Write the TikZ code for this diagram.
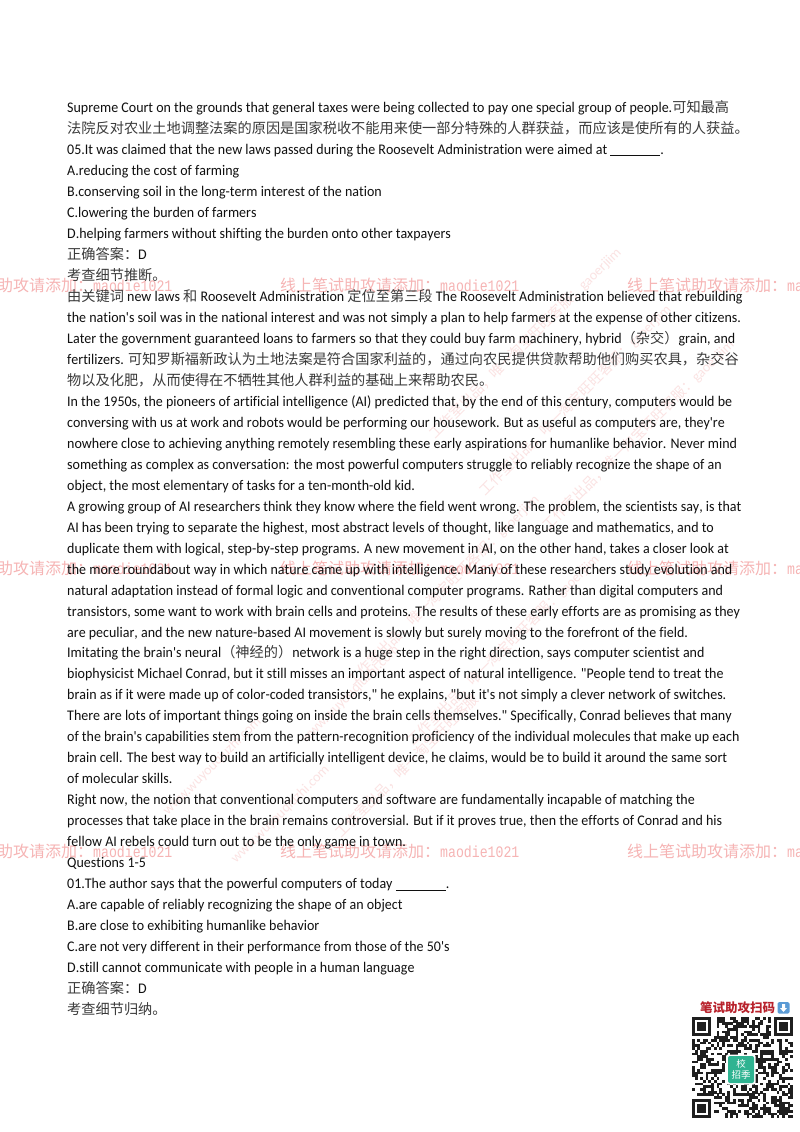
\documentclass[tikz,border=0pt]{standalone}
\usepackage{fontspec}
\newfontfamily\latf[Ligatures=NoCommon,Kerning=Off,FakeStretch=0.95]{Carlito}
\newfontfamily\cjkf{Noto Sans CJK SC}
\newfontfamily\wmono[FakeStretch=0.825]{Liberation Mono}
\setmainfont{Carlito}
\definecolor{inkc}{HTML}{101010}
\definecolor{zhc}{HTML}{3A3A3A}
\definecolor{wmred}{HTML}{F6B4B4}
\definecolor{wmfaint}{HTML}{FBE3E3}
\definecolor{qrteal}{HTML}{2FB391}
\definecolor{qrtitle}{HTML}{B8222C}
\definecolor{qrblue}{HTML}{5B9BD5}
\newcommand{\zh}[1]{{\cjkf\fontsize{14.2pt}{16pt}\selectfont\color{zhc}#1}}
\newcommand{\pline}[2]{\node[txtline] (ln#1) at ({67},{112.5+20.98*(#1-1)}) {#2};}
\newcommand{\wmark}[3]{\node[wmline] (#1) at (#2,#3) {{\cjkf 线上笔试助攻请添加：}{\wmono\fontsize{16pt}{18pt}\selectfont maodie1021}};}
\newcommand{\wdiag}[4]{\node[wmdiag] (#1) at (#2,#3) {#4};}
\tikzset{
  txtline/.style={inner sep=0pt,anchor=base west,text=inkc,font=\latf\fontsize{14.72pt}{16pt}\selectfont},
  wmline/.style={inner sep=0pt,anchor=base west,text=wmred,font=\fontsize{16pt}{18pt}\selectfont},
  wmdiag/.style={inner sep=0pt,anchor=base east,rotate=45,text=wmfaint,font=\fontsize{14pt}{16pt}\selectfont},
  qrmod/.style={fill=black!88,draw=none}
}
\begin{document}
\begin{tikzpicture}[x=1pt,y=-1pt]
\useasboundingbox[fill=white] (0,0) rectangle (800,1132);
% faint diagonal watermarks
\wdiag{dga}{622}{253}{{\cjkf 工作室出品，唯一淘宝旺旺客服：}gaoerjiim}
\wdiag{dgb}{672}{310}{{\cjkf 工作室出品，唯一淘宝旺旺客服：}gaoerjiim}
\wdiag{dgc}{735}{345}{{\cjkf 工作室出品，唯一淘宝旺旺客服：}gaoerjiim}
\wdiag{dgd}{540}{500}{{\cjkf 工作室出品，唯一淘宝旺旺客服：}gaoerjiim}
\wdiag{dge}{600}{560}{{\cjkf 工作室出品，唯一淘宝旺旺客服：}gaoerjiim}
\wdiag{dgf}{480}{700}{{\cjkf 工作室出品，唯一淘宝旺旺客服}}
\wdiag{dgg}{330}{770}{www.wuyouqiuzhi.com}
\wdiag{dgh}{262}{722}{www.wuyouqiuzhi.com}
\wdiag{dgi}{400}{650}{www.wuyouqiuzhi.com}
% red watermarks
\wmark{wa}{-67}{291}\wmark{wb}{280}{291}\wmark{wc}{627}{291}
\wmark{wd}{-67}{574.5}\wmark{we}{280}{574.5}\wmark{wf}{627}{574.5}
\wmark{wg}{-67}{857.5}\wmark{wh}{280}{857.5}\wmark{wi}{627}{857.5}
% body text
\pline{1}{Supreme Court on the grounds that general taxes were being collected to pay one special group of people.\zh{可知最高}}
\pline{2}{\zh{法院反对农业土地调整法案的原因是国家税收不能用来使一部分特殊的人群获益，而应该是使所有的人获益。}}
\pline{3}{05.It was claimed that the new laws passed during the Roosevelt Administration were aimed at \rule[-1.5pt]{50pt}{0.7pt}.}
\pline{4}{A.reducing the cost of farming}
\pline{5}{B.conserving soil in the long-term interest of the nation}
\pline{6}{C.lowering the burden of farmers}
\pline{7}{D.helping farmers without shifting the burden onto other taxpayers}
\pline{8}{\zh{正确答案：}D}
\pline{9}{\zh{考查细节推断。}}
\pline{10}{\zh{由关键词} new laws \zh{和} Roosevelt Administration \zh{定位至第三段} The Roosevelt Administration believed that rebuilding}
\pline{11}{the nation's soil was in the national interest and was not simply a plan to help farmers at the expense of other citizens.}
\pline{12}{Later the government guaranteed loans to farmers so that they could buy farm machinery, hybrid\zh{（杂交）}grain, and}
\pline{13}{fertilizers. \zh{可知罗斯福新政认为土地法案是符合国家利益的，通过向农民提供贷款帮助他们购买农具，杂交谷}}
\pline{14}{\zh{物以及化肥，从而使得在不牺牲其他人群利益的基础上来帮助农民。}}
\pline{15}{In the 1950s, the pioneers of artificial intelligence (AI) predicted that, by the end of this century, computers would be}
\pline{16}{conversing with us at work and robots would be performing our housework. But as useful as computers are, they're}
\pline{17}{nowhere close to achieving anything remotely resembling these early aspirations for humanlike behavior. Never mind}
\pline{18}{something as complex as conversation: the most powerful computers struggle to reliably recognize the shape of an}
\pline{19}{object, the most elementary of tasks for a ten-month-old kid.}
\pline{20}{A growing group of AI researchers think they know where the field went wrong. The problem, the scientists say, is that}
\pline{21}{AI has been trying to separate the highest, most abstract levels of thought, like language and mathematics, and to}
\pline{22}{duplicate them with logical, step-by-step programs. A new movement in AI, on the other hand, takes a closer look at}
\pline{23}{the more roundabout way in which nature came up with intelligence. Many of these researchers study evolution and}
\pline{24}{natural adaptation instead of formal logic and conventional computer programs. Rather than digital computers and}
\pline{25}{transistors, some want to work with brain cells and proteins. The results of these early efforts are as promising as they}
\pline{26}{are peculiar, and the new nature-based AI movement is slowly but surely moving to the forefront of the field.}
\pline{27}{Imitating the brain's neural\zh{（神经的）}network is a huge step in the right direction, says computer scientist and}
\pline{28}{biophysicist Michael Conrad, but it still misses an important aspect of natural intelligence. "People tend to treat the}
\pline{29}{brain as if it were made up of color-coded transistors," he explains, "but it's not simply a clever network of switches.}
\pline{30}{There are lots of important things going on inside the brain cells themselves." Specifically, Conrad believes that many}
\pline{31}{of the brain's capabilities stem from the pattern-recognition proficiency of the individual molecules that make up each}
\pline{32}{brain cell. The best way to build an artificially intelligent device, he claims, would be to build it around the same sort}
\pline{33}{of molecular skills.}
\pline{34}{Right now, the notion that conventional computers and software are fundamentally incapable of matching the}
\pline{35}{processes that take place in the brain remains controversial. But if it proves true, then the efforts of Conrad and his}
\pline{36}{fellow AI rebels could turn out to be the only game in town.}
\pline{37}{Questions 1-5}
\pline{38}{01.The author says that the powerful computers of today \rule[-1.5pt]{50pt}{0.7pt}.}
\pline{39}{A.are capable of reliably recognizing the shape of an object}
\pline{40}{B.are close to exhibiting humanlike behavior}
\pline{41}{C.are not very different in their performance from those of the 50's}
\pline{42}{D.still cannot communicate with people in a human language}
\pline{43}{\zh{正确答案：}D}
\pline{44}{\zh{考查细节归纳。}}
% QR title
\node[inner sep=0pt,anchor=base west,text=qrtitle,font=\cjkf\bfseries\fontsize{12.5pt}{14pt}\selectfont] (qrt) at (700,1012) {笔试助攻扫码};
\fill[qrblue,rounded corners=1.5pt] (777.5,1002) rectangle (789.5,1013.5);
\fill[white] (782,1004) -- (785,1004) -- (785,1008) -- (787,1008) -- (783.5,1012) -- (780,1008) -- (782,1008) -- cycle;
% QR modules
\pgfmathsetseed{1021}
\begin{scope}[shift={(692,1017)},x=2.73pt,y=-2.73pt]
\foreach \r in {0,...,36}{\foreach \c in {0,...,36}{
  \pgfmathrandominteger{\qb}{0}{99}
  \ifnum\qb<52\relax\fill[qrmod] (\c,\r) rectangle ++(1.02,1.02);\fi
}}
\foreach \ox/\oy in {0/0,29/0,0/29}{
  \fill[white] (\ox-0.2,\oy-0.2) rectangle ++(8.4,8.4);
}
\foreach \ox/\oy in {0/0,30/0,0/30}{
  \fill[black!88] (\ox,\oy) rectangle ++(7,7);
  \fill[white] (\ox+1,\oy+1) rectangle ++(5,5);
  \fill[black!88] (\ox+2,\oy+2) rectangle ++(3,3);
}
\end{scope}
% QR logo
\fill[white,rounded corners=2pt] (726,1054.5) rectangle (755.5,1084.5);
\fill[qrteal,rounded corners=2pt] (728,1056) rectangle (754,1083);
\node[inner sep=0pt,text=white,font=\cjkf\fontsize{9.5pt}{10pt}\selectfont] (qrl1) at (741,1064) {校};
\node[inner sep=0pt,text=white,font=\cjkf\fontsize{9.5pt}{10pt}\selectfont] (qrl2) at (741,1075) {招季};
\end{tikzpicture}
\end{document}
